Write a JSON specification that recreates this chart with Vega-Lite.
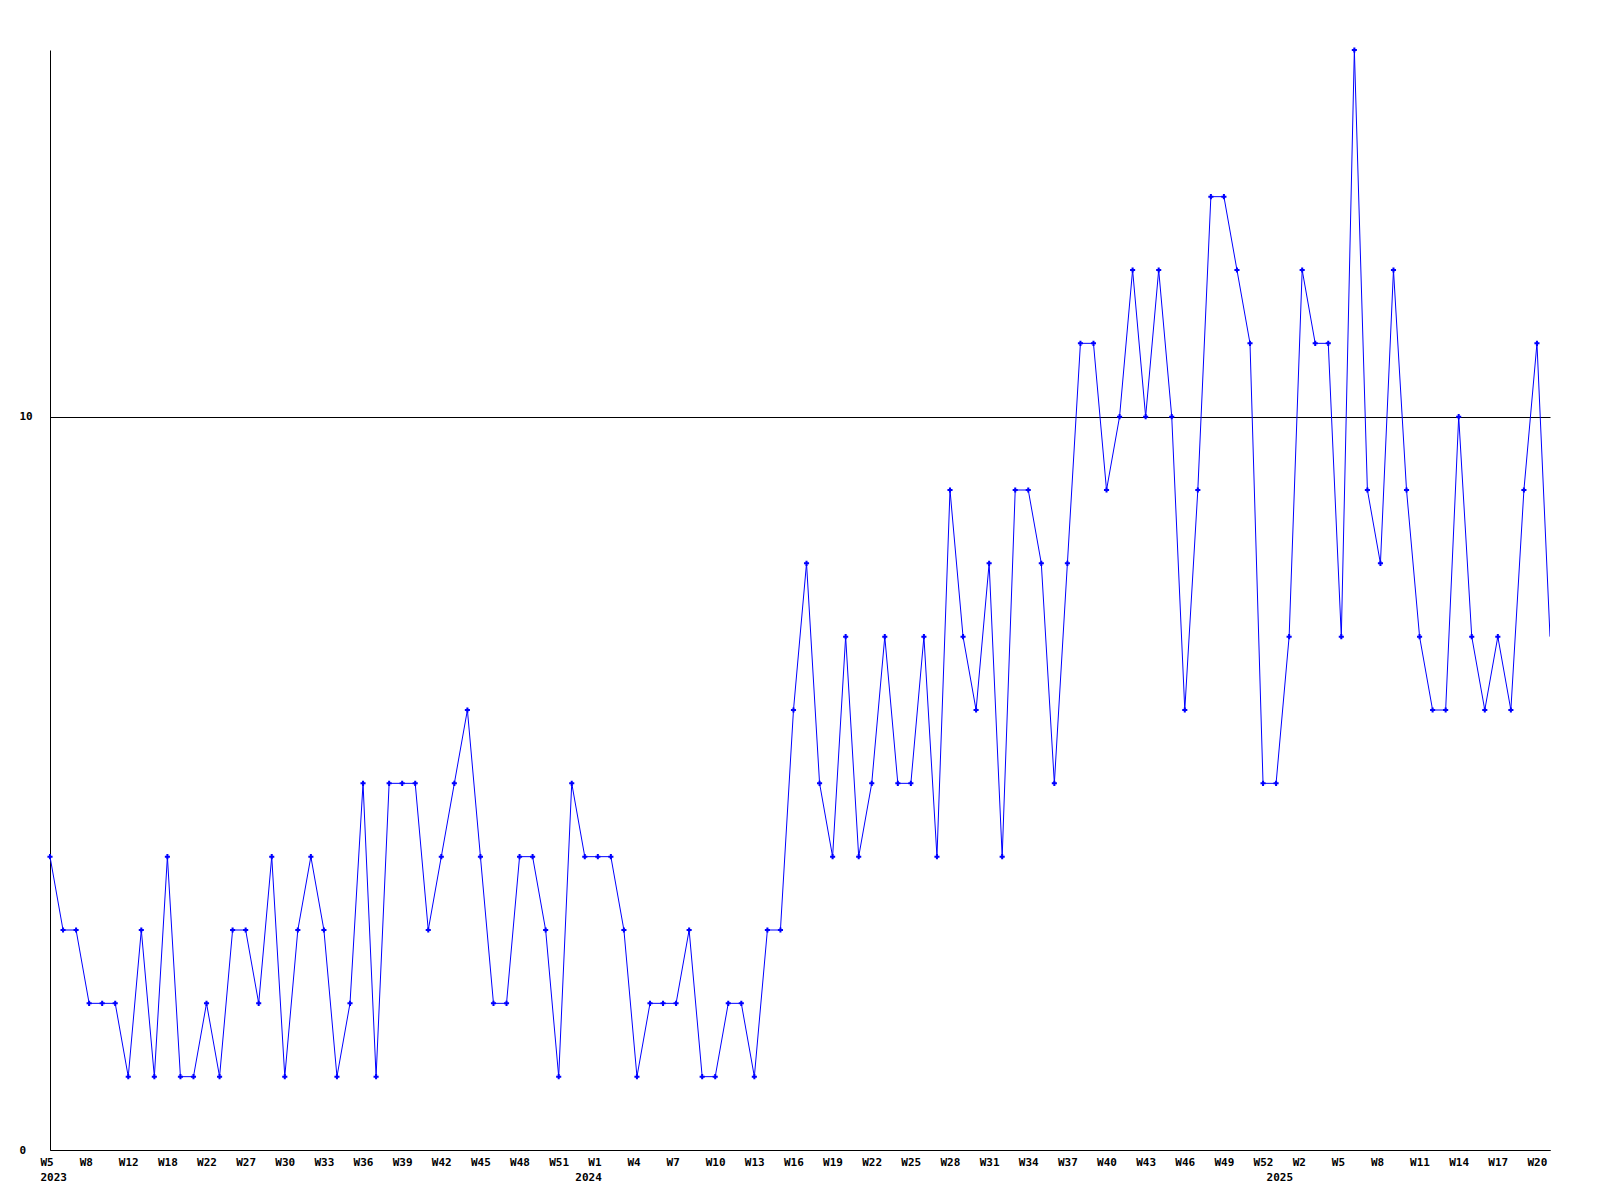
{
  "$schema": "https://vega.github.io/schema/vega-lite/v6.json",
  "width": 1500,
  "height": 1100,
  "autosize": {"type": "none"},
  "padding": {"left": 50, "top": 50, "right": 50, "bottom": 50},
  "background": "white",
  "config": {
    "view": {"stroke": null},
    "axis": {"labelFont": "DejaVu Sans Mono", "labelFontWeight": "bold", "labelFontSize": 11, "labelColor": "black", "domainColor": "black", "domainWidth": 1, "ticks": false, "title": null}
  },
  "data": {"values": [
    {"wk": "2023-W05", "n": 4}, {"wk": "2023-W06", "n": 3}, {"wk": "2023-W07", "n": 3}, {"wk": "2023-W08", "n": 2},
    {"wk": "2023-W10", "n": 2}, {"wk": "2023-W11", "n": 2}, {"wk": "2023-W12", "n": 1}, {"wk": "2023-W14", "n": 3},
    {"wk": "2023-W16", "n": 1}, {"wk": "2023-W18", "n": 4}, {"wk": "2023-W19", "n": 1}, {"wk": "2023-W20", "n": 1},
    {"wk": "2023-W22", "n": 2}, {"wk": "2023-W24", "n": 1}, {"wk": "2023-W25", "n": 3}, {"wk": "2023-W27", "n": 3},
    {"wk": "2023-W28", "n": 2}, {"wk": "2023-W29", "n": 4}, {"wk": "2023-W30", "n": 1}, {"wk": "2023-W31", "n": 3},
    {"wk": "2023-W32", "n": 4}, {"wk": "2023-W33", "n": 3}, {"wk": "2023-W34", "n": 1}, {"wk": "2023-W35", "n": 2},
    {"wk": "2023-W36", "n": 5}, {"wk": "2023-W37", "n": 1}, {"wk": "2023-W38", "n": 5}, {"wk": "2023-W39", "n": 5},
    {"wk": "2023-W40", "n": 5}, {"wk": "2023-W41", "n": 3}, {"wk": "2023-W42", "n": 4}, {"wk": "2023-W43", "n": 5},
    {"wk": "2023-W44", "n": 6}, {"wk": "2023-W45", "n": 4}, {"wk": "2023-W46", "n": 2}, {"wk": "2023-W47", "n": 2},
    {"wk": "2023-W48", "n": 4}, {"wk": "2023-W49", "n": 4}, {"wk": "2023-W50", "n": 3}, {"wk": "2023-W51", "n": 1},
    {"wk": "2023-W52", "n": 5}, {"wk": "2024-W00", "n": 4}, {"wk": "2024-W01", "n": 4}, {"wk": "2024-W02", "n": 4},
    {"wk": "2024-W03", "n": 3}, {"wk": "2024-W04", "n": 1}, {"wk": "2024-W05", "n": 2}, {"wk": "2024-W06", "n": 2},
    {"wk": "2024-W07", "n": 2}, {"wk": "2024-W08", "n": 3}, {"wk": "2024-W09", "n": 1}, {"wk": "2024-W10", "n": 1},
    {"wk": "2024-W11", "n": 2}, {"wk": "2024-W12", "n": 2}, {"wk": "2024-W13", "n": 1}, {"wk": "2024-W14", "n": 3},
    {"wk": "2024-W15", "n": 3}, {"wk": "2024-W16", "n": 6}, {"wk": "2024-W17", "n": 8}, {"wk": "2024-W18", "n": 5},
    {"wk": "2024-W19", "n": 4}, {"wk": "2024-W20", "n": 7}, {"wk": "2024-W21", "n": 4}, {"wk": "2024-W22", "n": 5},
    {"wk": "2024-W23", "n": 7}, {"wk": "2024-W24", "n": 5}, {"wk": "2024-W25", "n": 5}, {"wk": "2024-W26", "n": 7},
    {"wk": "2024-W27", "n": 4}, {"wk": "2024-W28", "n": 9}, {"wk": "2024-W29", "n": 7}, {"wk": "2024-W30", "n": 6},
    {"wk": "2024-W31", "n": 8}, {"wk": "2024-W32", "n": 4}, {"wk": "2024-W33", "n": 9}, {"wk": "2024-W34", "n": 9},
    {"wk": "2024-W35", "n": 8}, {"wk": "2024-W36", "n": 5}, {"wk": "2024-W37", "n": 8}, {"wk": "2024-W38", "n": 11},
    {"wk": "2024-W39", "n": 11}, {"wk": "2024-W40", "n": 9}, {"wk": "2024-W41", "n": 10}, {"wk": "2024-W42", "n": 12},
    {"wk": "2024-W43", "n": 10}, {"wk": "2024-W44", "n": 12}, {"wk": "2024-W45", "n": 10}, {"wk": "2024-W46", "n": 6},
    {"wk": "2024-W47", "n": 9}, {"wk": "2024-W48", "n": 13}, {"wk": "2024-W49", "n": 13}, {"wk": "2024-W50", "n": 12},
    {"wk": "2024-W51", "n": 11}, {"wk": "2024-W52", "n": 5}, {"wk": "2025-W00", "n": 5}, {"wk": "2025-W01", "n": 7},
    {"wk": "2025-W02", "n": 12}, {"wk": "2025-W03", "n": 11}, {"wk": "2025-W04", "n": 11}, {"wk": "2025-W05", "n": 7},
    {"wk": "2025-W06", "n": 15}, {"wk": "2025-W07", "n": 9}, {"wk": "2025-W08", "n": 8}, {"wk": "2025-W09", "n": 12},
    {"wk": "2025-W10", "n": 9}, {"wk": "2025-W11", "n": 7}, {"wk": "2025-W12", "n": 6}, {"wk": "2025-W13", "n": 6},
    {"wk": "2025-W14", "n": 10}, {"wk": "2025-W15", "n": 7}, {"wk": "2025-W16", "n": 6}, {"wk": "2025-W17", "n": 7},
    {"wk": "2025-W18", "n": 6}, {"wk": "2025-W19", "n": 9}, {"wk": "2025-W20", "n": 11}, {"wk": "2025-W21", "n": 7}
  ]},
  "encoding": {
    "x": {
      "field": "wk", "type": "ordinal", "sort": null,
      "scale": {"type": "point", "padding": 0},
      "axis": {
        "values": ["2023-W05", "2023-W08", "2023-W12", "2023-W18", "2023-W22", "2023-W27", "2023-W30", "2023-W33", "2023-W36", "2023-W39", "2023-W42", "2023-W45", "2023-W48", "2023-W51", "2024-W00", "2024-W01", "2024-W04", "2024-W07", "2024-W10", "2024-W13", "2024-W16", "2024-W19", "2024-W22", "2024-W25", "2024-W28", "2024-W31", "2024-W34", "2024-W37", "2024-W40", "2024-W43", "2024-W46", "2024-W49", "2024-W52", "2025-W00", "2025-W02", "2025-W05", "2025-W08", "2025-W11", "2025-W14", "2025-W17", "2025-W20"],
        "labelExpr": "datum.value == '2023-W05' ? ['W5', '2023'] : (slice(datum.value, 6) == '00' ? ['\u00a0', slice(datum.value, 0, 4)] : ('W' + toNumber(slice(datum.value, 6))))",
        "labelAngle": 0,
        "labelAlign": "left",
        "labelOffset": -10,
        "labelOverlap": false,
        "labelPadding": 6,
        "labelLineHeight": 15,
        "grid": false
      }
    },
    "y": {
      "field": "n", "type": "quantitative",
      "scale": {"domain": [0, 15], "nice": false, "zero": true},
      "axis": {
        "values": [0, 10],
        "grid": true, "gridColor": "black", "gridOpacity": 1, "gridWidth": 1,
        "labelAlign": "left", "labelPadding": 31, "labelBaseline": "middle"
      }
    }
  },
  "layer": [
    {"mark": {"type": "line", "color": "#0000ff", "strokeWidth": 1, "clip": true}},
    {
      "transform": [{"filter": "datum.wk != '2025-W21'"}],
      "mark": {"type": "point", "shape": "cross", "size": 26, "filled": true, "color": "#0000ff", "opacity": 1, "strokeWidth": 0}
    }
  ]
}
